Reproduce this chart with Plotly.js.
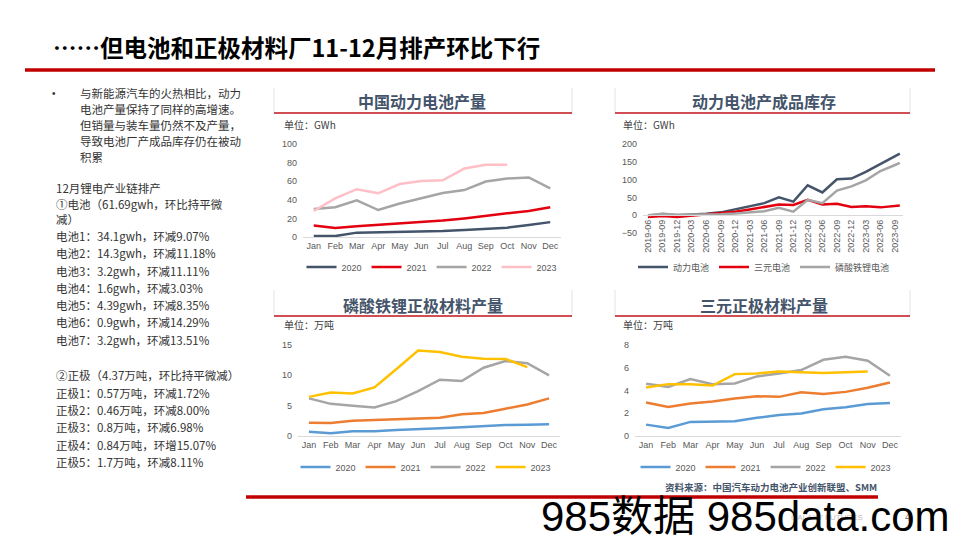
<!DOCTYPE html>
<html>
<head>
<meta charset="utf-8">
<script src="https://cdn.plot.ly/plotly-3.0.1.min.js"></script>
<style>html,body{margin:0;padding:0;background:#fff;}#chart{width:960px;height:540px;}</style>
</head>
<body>
<div id="chart"></div>
<script>
// ---------- data ----------
const months = ['Jan','Feb','Mar','Apr','May','Jun','Jul','Aug','Sep','Oct','Nov','Dec'];
const yearNames = ['2020','2021','2022','2023'];

// 中国动力电池产量 (GWh)
const batt2020 = [1.0, 1.0, 4.7, 5.0, 5.4, 5.8, 6.5, 7.6, 9.0, 10.0, 13.0, 16.0];
const batt2021 = [12.3, 9.7, 11.5, 13.0, 14.0, 15.5, 17.7, 20.0, 23.0, 25.5, 28.0, 32.0];
const batt2022 = [30.0, 32.0, 39.4, 29.0, 36.0, 41.5, 47.3, 50.5, 59.6, 63.0, 64.0, 52.3];
const batt2023 = [28.0, 41.5, 51.4, 47.0, 57.0, 60.3, 61.0, 73.6, 77.6, 77.6];

// 动力电池产成品库存 (GWh)
const invDates = ['2019-06-01','2019-09-01','2019-12-01','2020-03-01','2020-06-01','2020-09-01','2020-12-01',
  '2021-03-01','2021-06-01','2021-09-01','2021-12-01','2022-03-01','2022-06-01','2022-09-01','2022-12-01',
  '2023-03-01','2023-06-01','2023-09-01','2023-10-01'];
const invTotal = [-2, 3, 0, 1, 4, 8, 17, 25, 34, 50, 38, 84, 64, 101, 103, 122, 144, 166, 173];
const invNCM   = [-5, -2, -5, -1, 2, 5, 10, 16, 24, 30, 29, 43, 30, 32, 23, 25, 22, 27, 27];
const invLFP   = [0, 4, 1, 1, 1, 3, 5, 8, 11, 21, 10, 43, 34, 69, 81, 98, 124, 141, 147];
const invNames = ['动力电池','三元电池','磷酸铁锂电池'];
const invTickLabels = ['2019-06','2019-09','2019-12','2020-03','2020-06','2020-09','2020-12','2021-03','2021-06',
  '2021-09','2021-12','2022-03','2022-06','2022-09','2022-12','2023-03','2023-06','2023-09'];

// 磷酸铁锂正极材料产量 (万吨)
const lfp2020 = [0.70, 0.45, 0.80, 0.80, 1.00, 1.10, 1.27, 1.43, 1.65, 1.80, 1.87, 1.93];
const lfp2021 = [2.20, 2.15, 2.50, 2.65, 2.75, 2.87, 3.00, 3.60, 3.80, 4.50, 5.20, 6.20];
const lfp2022 = [6.20, 5.30, 5.00, 4.70, 5.75, 7.40, 9.27, 9.05, 11.25, 12.35, 12.00, 10.00];
const lfp2023 = [6.45, 7.17, 7.00, 8.00, 11.00, 14.10, 13.85, 13.07, 12.74, 12.70, 11.36];

// 三元正极材料产量 (万吨)
const ncm2020 = [1.00, 0.70, 1.24, 1.30, 1.30, 1.60, 1.85, 1.97, 2.35, 2.53, 2.82, 2.90];
const ncm2021 = [2.94, 2.56, 2.85, 3.03, 3.30, 3.50, 3.44, 3.85, 3.70, 3.88, 4.24, 4.70];
const ncm2022 = [4.60, 4.32, 5.00, 4.56, 4.62, 5.24, 5.50, 5.80, 6.70, 6.97, 6.62, 5.30];
const ncm2023 = [4.26, 4.56, 4.56, 4.44, 5.44, 5.50, 5.68, 5.62, 5.53, 5.60, 5.68];

// ---------- helpers ----------
const W = 960, H = 540;
const px = x => x / W;
const py = y => 1 - y / H;
const FONT = '"Liberation Sans", Arial, "Noto Sans CJK SC", sans-serif';
const CJK = '"Noto Sans CJK SC", "Liberation Sans", sans-serif';
const TICK = {size: 9, color: '#595959', family: FONT};

function line(x, y, name, color, xa, ya, leg, width) {
  return {type: 'scatter', mode: 'lines', x: x, y: y, name: name, xaxis: xa, yaxis: ya, legend: leg,
    line: {color: color, width: width || 2.5}, hoverinfo: 'skip'};
}

const c1 = ['#44546a', '#e3000f', '#a5a5a5', '#ffbfc6'];
const c2 = ['#44546a', '#e3000f', '#a5a5a5'];
const c3 = ['#5b9bd5', '#ed7d31', '#a5a5a5', '#ffc000'];

const traces = [];
[batt2020, batt2021, batt2022, batt2023].forEach((s, i) =>
  traces.push(line(months.slice(0, s.length), s, yearNames[i], c1[i], 'x', 'y', 'legend')));
[invTotal, invNCM, invLFP].forEach((s, i) =>
  traces.push(line(invDates, s, invNames[i], c2[i], 'x2', 'y2', 'legend2')));
[lfp2020, lfp2021, lfp2022, lfp2023].forEach((s, i) =>
  traces.push(line(months.slice(0, s.length), s, yearNames[i], c3[i], 'x3', 'y3', 'legend3')));
[ncm2020, ncm2021, ncm2022, ncm2023].forEach((s, i) =>
  traces.push(line(months.slice(0, s.length), s, yearNames[i], c3[i], 'x4', 'y4', 'legend4')));

const catX = (dom, ya) => ({domain: dom, anchor: ya, type: 'category', categoryorder: 'array', categoryarray: months,
  range: [-0.5, 11.5], showline: true, linecolor: '#d9d9d9', linewidth: 1, showgrid: false, zeroline: false,
  ticks: '', tickfont: TICK, fixedrange: true});
const valY = (dom, xa, rng, dt) => ({domain: dom, anchor: xa, range: rng, dtick: dt, showgrid: false,
  zeroline: false, showline: false, ticks: '', tickfont: TICK, ticklabelstandoff: 5, fixedrange: true});

const legendBase = (x, y) => ({orientation: 'h', x: x, y: y, xanchor: 'center', yanchor: 'middle',
  font: {size: 9, color: '#595959', family: FONT}, bgcolor: 'rgba(0,0,0,0)', traceorder: 'normal',
  itemwidth: 30, tracegroupgap: 0});

// ---------- decorations ----------
const shapes = [];
function hline(x0, x1, y, color, w) {
  shapes.push({type: 'line', xref: 'paper', yref: 'paper', x0: px(x0), x1: px(x1), y0: py(y), y1: py(y),
    line: {color: color, width: w}});
}
function vline(x, y0, y1, color, w) {
  shapes.push({type: 'line', xref: 'paper', yref: 'paper', x0: px(x), x1: px(x), y0: py(y0), y1: py(y1),
    line: {color: color, width: w}});
}
hline(25, 935, 70, '#c00000', 3.5);
hline(246, 878, 497, '#c00000', 3.5);
[[274, 572, 88, 113], [615, 910, 88, 113], [274, 572, 290, 316], [615, 910, 290, 316]].forEach(b => {
  vline(b[0], b[2], b[3], '#e4e4e4', 1);
  vline(b[1], b[2], b[3], '#e4e4e4', 1);
  hline(b[0], b[1], b[3], '#c0141c', 1.5);
});

const ann = [];
function txt(text, x, y, opts) {
  ann.push(Object.assign({text: text, x: px(x), y: py(y), xref: 'paper', yref: 'paper', showarrow: false,
    xanchor: 'left', yanchor: 'middle', borderpad: 0, font: {size: 12, color: '#333333', family: CJK}}, opts || {}));
}
// main title
txt('<b>……但电池和正极材料厂11-12月排产环比下行</b>', 52, 47, {font: {size: 23.5, color: '#000000', family: CJK}});
// chart titles
[['中国动力电池产量', 422, 101], ['动力电池产成品库存', 764, 101], ['磷酸铁锂正极材料产量', 423, 305], ['三元正极材料产量', 764, 305]]
  .forEach(t => txt('<b>' + t[0] + '</b>', t[1], t[2], {xanchor: 'center', font: {size: 16, color: '#44546a', family: CJK}}));
// units
[['单位：GWh', 283, 124], ['单位：GWh', 622, 124], ['单位：万吨', 283, 324], ['单位：万吨', 622, 324]]
  .forEach(t => txt(t[0], t[1], t[2], {font: {size: 10, color: '#404040', family: CJK}}));

// left text column
txt('•', 51, 93, {font: {size: 10, color: '#333333', family: FONT}});
const bulletLines = ['与新能源汽车的火热相比，动力', '电池产量保持了同样的高增速。', '但销量与装车量仍然不及产量，',
  '导致电池厂产成品库存仍在被动', '积累'];
bulletLines.forEach((l, i) => txt(l, 79, 93 + i * 16, {font: {size: 11.5, color: '#333333', family: CJK}}));
const chainLines = [
  ['12月锂电产业链排产', 188], ['①电池（61.69gwh，环比持平微', 204], ['减）', 219],
  ['电池1：34.1gwh，环减9.07%', 236], ['电池2：14.3gwh，环减11.18%', 253], ['电池3：3.2gwh，环减11.11%', 271],
  ['电池4：1.6gwh，环减3.03%', 288], ['电池5：4.39gwh，环减8.35%', 305], ['电池6：0.9gwh，环减14.29%', 322],
  ['电池7：3.2gwh，环减13.51%', 340], ['②正极（4.37万吨，环比持平微减）', 375], ['正极1：0.57万吨，环减1.72%', 393],
  ['正极2：0.46万吨，环减8.00%', 410], ['正极3：0.8万吨，环减6.98%', 427], ['正极4：0.84万吨，环增15.07%', 445],
  ['正极5：1.7万吨，环减8.11%', 462]];
chainLines.forEach(l => txt(l[0], 55, l[1], {font: {size: 11.5, color: '#333333', family: CJK}}));

// source & footer
txt('<b>资料来源：中国汽车动力电池产业创新联盟、SMM</b>', 878, 487, {xanchor: 'right', font: {size: 9.5, color: '#44546a', family: CJK}});
txt('GALAXY FUTURES', 790, 517, {font: {size: 8, color: '#bfbfbf', family: FONT}});
txt('4', 904, 517, {font: {size: 10, color: '#7f7f7f', family: FONT}});
txt('985数据 985data.com', 540, 516.5, {font: {size: 42, color: '#000000', family: FONT}});

const layout = {
  width: W, height: H, autosize: false, margin: {l: 0, r: 0, t: 0, b: 0},
  paper_bgcolor: '#ffffff', plot_bgcolor: 'rgba(0,0,0,0)', font: {family: FONT},
  showlegend: true,
  xaxis: catX([px(303), px(561)], 'y'),
  yaxis: valY([py(237), py(144)], 'x', [0, 100], 20),
  xaxis2: {domain: [px(643), px(903)], anchor: 'free', position: py(215.2), type: 'date',
    range: ['2019-05-01', '2023-10-21'], tickmode: 'array',
    tickvals: invTickLabels.map(d => d + '-01'), ticktext: invTickLabels, tickangle: -90,
    showline: true, linecolor: '#d9d9d9', linewidth: 1, showgrid: false, zeroline: false, ticks: '',
    tickfont: TICK, fixedrange: true},
  yaxis2: valY([py(233), py(144)], 'x2', [-50, 200], 50),
  xaxis3: catX([px(298), px(560)], 'y3'),
  yaxis3: valY([py(436), py(345)], 'x3', [0, 15], 5),
  xaxis4: catX([px(635), px(901)], 'y4'),
  yaxis4: valY([py(436), py(345)], 'x4', [0, 8], 2),
  legend: legendBase(px(432), py(267)),
  legend2: legendBase(px(764), py(267)),
  legend3: legendBase(px(426), py(467)),
  legend4: legendBase(px(766), py(467)),
  shapes: shapes,
  annotations: ann
};

Plotly.newPlot('chart', traces, layout, {staticPlot: true, displayModeBar: false});
</script>
</body>
</html>
